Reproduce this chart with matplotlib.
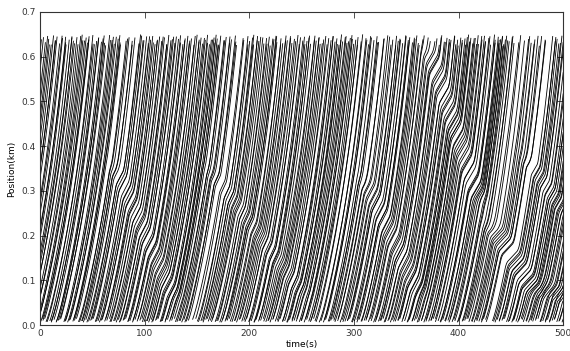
import numpy as np
import matplotlib.pyplot as plt

# times (s) at which vehicles enter the section at the bottom, lane 1
lane1_entry = [
    -54, -52, -49.5, -47,
    -44, -42, -40, -37.5, -35, -33, -30.5, -28, -26, -24, -21.5, -19, -17,
    -15, -12.5, -10, -8, -6, -3.5, -1.5,
    1, 3, 4.5, 7, 9.5, 11, 13.5, 16, 17.5, 20, 23, 24.5, 26.5, 29, 31.5, 33,
    35, 38, 40, 41.5, 44, 46.5, 48.5,
    51, 53, 55.5, 57, 59.5, 62, 64, 66.5, 68, 70.5, 73, 75, 77, 79.5, 82, 84,
    86, 88.5, 91, 93, 95.5, 97.5, 99.5,
    102, 104, 106.5, 108, 110.5, 113, 115, 117, 119.5, 122, 124, 126, 128.5,
    131, 133, 135.5, 137.5, 140, 142, 149, 151.5,
    154, 156, 158.5, 161, 163, 165, 167.5, 170, 172, 174.5, 177, 179, 181,
    183.5, 186, 188, 190.5, 193, 195, 197.5, 199.5,
    202, 204.5, 206.5, 209, 211, 213.5, 216, 218, 220, 222.5, 225, 227, 229.5,
    232, 234, 236, 238.5, 241, 243, 245.5, 248,
    250, 252.5, 255, 257, 259, 261.5, 264, 268.5, 271, 273, 275.5, 278, 280,
    282, 284.5, 287, 289, 291.5, 294, 296, 298,
    300.5, 303, 305, 307.5, 310, 312, 314, 316.5, 319, 321, 323.5, 326, 328,
    330, 332.5, 335, 337, 339.5, 342, 344, 346, 348.5,
    351, 353, 355.5, 358, 360, 362, 364.5, 367, 369, 371.5, 374, 376, 378,
    380.5, 383, 385, 387.5, 390, 392, 394, 396.5, 399,
    401, 403.5, 406, 408, 410, 412.5, 415, 417, 419.5, 422, 424, 426.5, 432.5,
    435, 437, 439, 441.5, 444, 446, 448.5,
    451, 453, 455, 457.5, 460, 462, 464.5, 467, 469, 471, 473.5, 476, 478,
    480.5, 483, 485, 487, 489.5, 492, 494, 496.5, 499,
]

# lane 2 (lighter traffic)
lane2_entry = [
    -52, -47.5, -43, -38, -33.5, -29, -24.5, -20, -15, -11, -6.5, -2,
    2.5, 6, 11, 15.5, 19, 24, 28, 32.5, 37, 40.5, 45, 49.5,
    54, 58.5, 63, 67, 71.5, 76, 80.5, 84.5, 89, 94, 98,
    102.5, 107, 111.5, 116, 120, 125, 129.5, 134, 138.5, 146, 150.5,
    155.5, 160, 164, 169, 173.5, 178, 182, 186.5, 191.5, 196,
    200.5, 205, 209.5, 214, 218.5, 223, 227.5, 232, 236.5, 241, 245, 249.5,
    254, 258.5, 263, 267, 272, 276.5, 281, 285, 289.5, 294, 298.5,
    303, 307, 311.5, 316, 320.5, 325, 329, 333.5, 338, 342.5, 347,
    351.5, 356, 360.5, 365, 369, 373.5, 378, 382.5, 387, 391, 395.5,
    400, 404.5, 409, 413, 417.5, 422, 426, 433.5, 439, 443, 447.5,
    452, 456.5, 461, 465, 469.5, 474, 478.5, 483, 487, 491.5, 496,
]

# where trajectories begin / end (km), taken in turn
start_pos = [0.010, 0.007, 0.013, 0.009, 0.011, 0.015, 0.008]
end_pos = [0.645, 0.632, 0.641, 0.648, 0.628, 0.638, 0.646, 0.635, 0.643,
           0.630, 0.649, 0.637]

# free flow speed along the section (km/s), per lane
free_pos = [0.0, 0.02, 0.05, 0.15, 0.30, 0.45, 0.66]
lane1_speed = [0.005, 0.008, 0.010, 0.012, 0.015, 0.019, 0.024]
lane2_speed = [0.0045, 0.0075, 0.0095, 0.0115, 0.0145, 0.018, 0.023]

# stop-and-go waves: upstream-moving bands in the time-space plane
wave_t_top = [62, 150, 300, 362, 418, 452, 462]
wave_x_top = [0.38, 0.37, 0.35, 0.645, 0.25, 0.40, 0.12]
wave_t_bot = [128, 255, 362, 418, 475, 505, 505]
wave_x_bot = [0.03, 0.04, 0.04, 0.25, 0.04, 0.22, 0.04]
wave_dur = [10, 10, 11, 11, 14, 10, 14]
wave_vslow = [0.0045, 0.005, 0.0045, 0.004, 0.0025, 0.004, 0.0025]

JAM_GAP = 0.007


def speed_at(t, x, lane_speed):
    v = np.interp(x, free_pos, lane_speed)
    out = v.copy()
    ramp = 0.6
    for k in range(len(wave_dur)):
        xt, xb = wave_x_top[k], wave_x_bot[k]
        tc = wave_t_top[k] + (xt - x) * (wave_t_bot[k] - wave_t_top[k]) / (xt - xb)
        p = (t - tc) / wave_dur[k]
        g = np.clip(np.minimum((p + ramp) / ramp, (1 + ramp - p) / ramp), 0, 1)
        edge = np.clip(np.minimum(x - xb, xt - x) / 0.04, 0, 1)
        g = g * edge
        out = np.minimum(out, v + (wave_vslow[k] - v) * g)
    return out


def simulate(entry, lane_speed, times, dt):
    n = len(entry)
    ent = np.array(entry, dtype=float)
    x = np.array([start_pos[i % len(start_pos)] for i in range(n)])
    xe = np.array([end_pos[i % len(end_pos)] for i in range(n)])
    started = np.zeros(n, bool)
    done = np.zeros(n, bool)
    traj = np.full((len(times), n), np.nan)
    for j, t in enumerate(times):
        started |= t >= ent
        active = started & ~done
        traj[j, active] = x[active]
        v = speed_at(t, x, lane_speed)
        x_new = x + v * dt
        # do not run into the vehicle ahead in the same lane
        lead_x = np.concatenate([[np.inf], x[:-1]])
        lead_on = np.concatenate([[False], (started & ~done)[:-1]])
        limit = np.where(lead_on, lead_x - JAM_GAP, np.inf)
        x_new = np.maximum(np.minimum(x_new, limit), x)
        x = np.where(active, x_new, x)
        done |= x >= xe
    return traj


def main():
    dt = 0.2
    times = np.arange(-60, 500 + dt, dt)
    fig = plt.figure(figsize=(5.7, 3.51), dpi=100)
    ax = fig.add_axes([0.070, 0.074, 0.918, 0.892])
    for entry, sp in [(lane1_entry, lane1_speed), (lane2_entry, lane2_speed)]:
        traj = simulate(entry, sp, times, dt)
        for i in range(traj.shape[1]):
            ax.plot(times, traj[:, i], color='black', lw=0.6)
    ax.set_xlim(0, 500)
    ax.set_ylim(0, 0.7)
    ax.set_xticks([0, 100, 200, 300, 400, 500])
    ax.set_yticks(np.arange(0, 0.71, 0.1))
    ax.set_yticklabels(['%.1f' % v for v in np.arange(0, 0.71, 0.1)])
    ax.tick_params(direction='in', top=True, right=True, labelsize=6.5,
                   length=4, width=0.6, colors='#333333', pad=3)
    for s in ax.spines.values():
        s.set_linewidth(0.8)
        s.set_color('#333333')
    ax.set_xlabel('time(s)', fontsize=6.5, labelpad=1)
    ax.set_ylabel('Position(km)', fontsize=6.5, labelpad=4)
    fig.savefig('out.png', dpi=100)


if __name__ == '__main__':
    main()
